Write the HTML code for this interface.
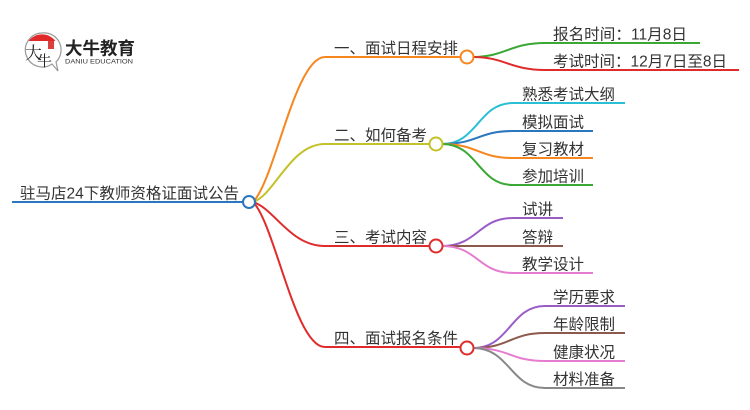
<!DOCTYPE html>
<html><head><meta charset="utf-8"><style>
html,body{margin:0;padding:0;background:#fff;}
svg{display:block;}
text{font-family:"Liberation Sans","Noto Sans CJK SC",sans-serif;font-size:15.5px;fill:#333;}
</style></head><body>
<svg width="750" height="410" viewBox="0 0 750 410" xmlns="http://www.w3.org/2000/svg">
<!-- logo -->
<g>
  <path d="M42 33 A17 17 0 1 0 52 64 L58 71 L56 62 A17 17 0 0 0 42 33 Z" fill="#fff" stroke="#999" stroke-width="1.2"/>
  <path d="M28.5 41 A17 17 0 0 1 55.5 41 Z" fill="#e02a2a"/>
  <text x="25" y="59" style="font-size:17px;fill:#222;font-family:'Liberation Serif','Noto Serif CJK SC',serif;">大</text>
  <text x="37" y="66" style="font-size:15px;fill:#222;font-family:'Liberation Serif','Noto Serif CJK SC',serif;">牛</text>
  <rect x="48" y="41" width="6" height="8" fill="#d94040"/>
  <text x="65" y="54.5" style="font-size:17.5px;font-weight:bold;fill:#222;" textLength="70" lengthAdjust="spacingAndGlyphs">大牛教育</text>
  <text x="65" y="63.5" style="font-size:6.8px;fill:#333;" textLength="68" lengthAdjust="spacingAndGlyphs">DANIU EDUCATION</text>
</g>

<g fill="none" stroke-width="2">
  <!-- root line -->
  <line x1="12" y1="202" x2="243" y2="202" stroke="#2b77bd"/>
  <!-- main branches -->
  <path d="M253 202 C275 180 295 57 325 57 L461 57" stroke="#f7861f"/>
  <path d="M253 202 C275 195 290 144 325 144 L430 144" stroke="#c3c22a"/>
  <path d="M253 202 C275 209 290 246 325 246 L430 246" stroke="#e02b2b"/>
  <path d="M253 202 C275 224 295 347 325 347 L461 347" stroke="#e02b2b"/>

  <!-- branch 1 children -->
  <path d="M473 57 C505 57 510 43 545 43 L700 43" stroke="#3aa836"/>
  <path d="M473 57 C505 57 510 70 545 70 L739 70" stroke="#e02b2b"/>

  <!-- branch 2 children -->
  <path d="M442 144 C478 144 478 103 513 103 L625 103" stroke="#2bbfd6"/>
  <path d="M442 144 C478 144 478 131 513 131 L593 131" stroke="#2a77bd"/>
  <path d="M442 144 C478 144 478 158 513 158 L593 158" stroke="#f7861f"/>
  <path d="M442 144 C478 144 478 185 513 185 L593 185" stroke="#3aa836"/>

  <!-- branch 3 children -->
  <path d="M442 246 C478 246 478 218 513 218 L563 218" stroke="#9a5dc8"/>
  <path d="M442 246 L563 246" stroke="#8c5a4c"/>
  <path d="M442 246 C478 246 478 273 513 273 L593 273" stroke="#e67ccf"/>

  <!-- branch 4 children -->
  <path d="M473 348 C510 348 510 306 545 306 L625 306" stroke="#9a5dc8"/>
  <path d="M473 348 C510 348 510 333 545 333 L625 333" stroke="#8c5a4c"/>
  <path d="M473 348 C510 348 510 361 545 361 L625 361" stroke="#e67ccf"/>
  <path d="M473 348 C510 348 510 388 545 388 L625 388" stroke="#888888"/>

  <!-- circles -->
  <circle cx="249" cy="202" r="6" fill="#fff" stroke="#2b77bd"/>
  <circle cx="467" cy="57" r="6.5" fill="#fff" stroke="#f7861f"/>
  <circle cx="436" cy="144" r="6.5" fill="#fff" stroke="#c3c22a"/>
  <circle cx="436" cy="246" r="6.5" fill="#fff" stroke="#e02b2b"/>
  <circle cx="467" cy="348" r="6.5" fill="#fff" stroke="#e02b2b"/>
</g>

<!-- texts -->
<text x="20" y="198.5" textLength="219" lengthAdjust="spacingAndGlyphs">驻马店24下教师资格证面试公告</text>

<text x="334" y="53.5" textLength="124" lengthAdjust="spacingAndGlyphs">一、面试日程安排</text>
<text x="334" y="140.5" textLength="93" lengthAdjust="spacingAndGlyphs">二、如何备考</text>
<text x="334" y="242.5" textLength="93" lengthAdjust="spacingAndGlyphs">三、考试内容</text>
<text x="334" y="343.5" textLength="124" lengthAdjust="spacingAndGlyphs">四、面试报名条件</text>

<text x="553" y="39.5" textLength="134" lengthAdjust="spacingAndGlyphs">报名时间：11月8日</text>
<text x="553" y="66.5" textLength="174" lengthAdjust="spacingAndGlyphs">考试时间：12月7日至8日</text>

<text x="522" y="99.5">熟悉考试大纲</text>
<text x="522" y="127.5">模拟面试</text>
<text x="522" y="154.5">复习教材</text>
<text x="522" y="181.5">参加培训</text>

<text x="522" y="214.5">试讲</text>
<text x="522" y="242.5">答辩</text>
<text x="522" y="269.5">教学设计</text>

<text x="553" y="302.5">学历要求</text>
<text x="553" y="329.5">年龄限制</text>
<text x="553" y="357.5">健康状况</text>
<text x="553" y="384.5">材料准备</text>
</svg>
</body></html>
